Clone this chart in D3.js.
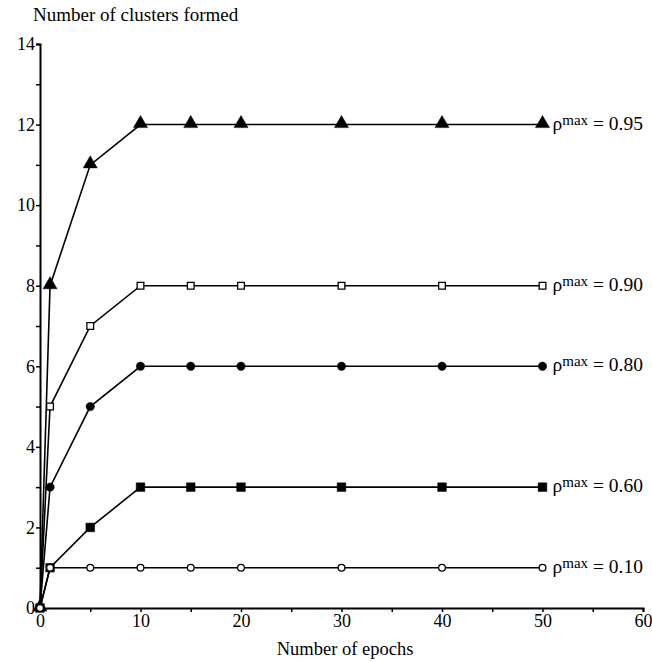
<!DOCTYPE html>
<html>
<head>
<meta charset="utf-8" />
<title>Number of clusters formed</title>
<script src="https://d3js.org/d3.v7.min.js"></script>
<style>
  body { margin: 0; background: #fff; }
  svg text { font-family: "Liberation Serif", "Times New Roman", "DejaVu Serif", serif; fill: #000; }
</style>
</head>
<body>
<svg width="652" height="662"></svg>
<script>
// epochs sampled
const epochs = [0, 1, 5, 10, 15, 20, 30, 40, 50];
// one series per rho max value
const rho095 = [0, 8, 11, 12, 12, 12, 12, 12, 12];
const rho090 = [0, 5, 7, 8, 8, 8, 8, 8, 8];
const rho080 = [0, 3, 5, 6, 6, 6, 6, 6, 6];
const rho060 = [0, 1, 2, 3, 3, 3, 3, 3, 3];
const rho010 = [0, 1, 1, 1, 1, 1, 1, 1, 1];
const seriesLabels = ["0.95", "0.90", "0.80", "0.60", "0.10"];
const xTicks = [0, 10, 20, 30, 40, 50, 60];
const yTicks = [0, 2, 4, 6, 8, 10, 12, 14];

const series = [
  { label: seriesLabels[0], values: rho095, marker: "triangle" },
  { label: seriesLabels[1], values: rho090, marker: "openSquare" },
  { label: seriesLabels[2], values: rho080, marker: "dot" },
  { label: seriesLabels[3], values: rho060, marker: "square" },
  { label: seriesLabels[4], values: rho010, marker: "openCircle" }
];

const serif = "'Liberation Serif', 'Times New Roman', serif";
const svg = d3.select("svg");
const x = d3.scaleLinear().domain([0, 60]).range([40, 643]);
const y = d3.scaleLinear().domain([0, 14]).range([608, 44]);

// axes
const xAxis = d3.axisBottom(x).tickValues(d3.range(0, 61, 5)).tickSize(4).tickPadding(2)
  .tickFormat(d => xTicks.includes(d) ? d : "");
svg.append("g").attr("transform", `translate(0,${y(0)})`).call(xAxis);

const yAxis = d3.axisLeft(y).tickValues(d3.range(0, 15, 1)).tickSize(4).tickPadding(1)
  .tickFormat(d => yTicks.includes(d) ? d : "");
svg.append("g").attr("transform", `translate(${x(0)},0)`).call(yAxis);

svg.selectAll("g").attr("font-family", serif);
svg.selectAll(".domain").attr("stroke", "#000").attr("stroke-width", 2);
svg.selectAll(".tick line").attr("stroke", "#000").attr("stroke-width", 1.5);
svg.selectAll(".tick text").attr("font-size", 18).attr("font-family", serif);

svg.append("text").attr("x", 33).attr("y", 21).attr("font-size", 19)
  .attr("font-family", serif).text("Number of clusters formed");
svg.append("text").attr("x", 345).attr("y", 655).attr("text-anchor", "middle")
  .attr("font-size", 18.5).attr("font-family", serif).text("Number of epochs");

const line = d3.line().x((d, i) => x(epochs[i])).y(d => y(d));

const shapes = {
  triangle: d3.symbol().type(d3.symbolTriangle).size(85),
  square: d3.symbol().type(d3.symbolSquare).size(75),
  openSquare: d3.symbol().type(d3.symbolSquare).size(45),
  dot: d3.symbol().type(d3.symbolCircle).size(55),
  openCircle: d3.symbol().type(d3.symbolCircle).size(36)
};

series.forEach(s => {
  svg.append("path").datum(s.values)
    .attr("fill", "none").attr("stroke", "#000").attr("stroke-width", 1.6)
    .attr("d", line);
  const open = s.marker.startsWith("open");
  svg.selectAll(null).data(s.values).join("path")
    .attr("transform", (d, i) => `translate(${x(epochs[i])},${y(d) + (s.marker === "triangle" ? -1 : 0)})`)
    .attr("d", shapes[s.marker])
    .attr("fill", open ? "#fff" : "#000")
    .attr("stroke", "#000")
    .attr("stroke-width", open ? 1.3 : 0.5);

  const last = s.values[s.values.length - 1];
  const t = svg.append("text").attr("x", x(50) + 10).attr("y", y(last) + 5)
    .attr("font-size", 19.5).attr("font-family", serif);
  t.append("tspan").text("\u03c1");
  t.append("tspan").attr("dy", -5).attr("font-size", 15).text("max");
  t.append("tspan").attr("dy", 5).text(" = " + s.label);
});
</script>
</body>
</html>
